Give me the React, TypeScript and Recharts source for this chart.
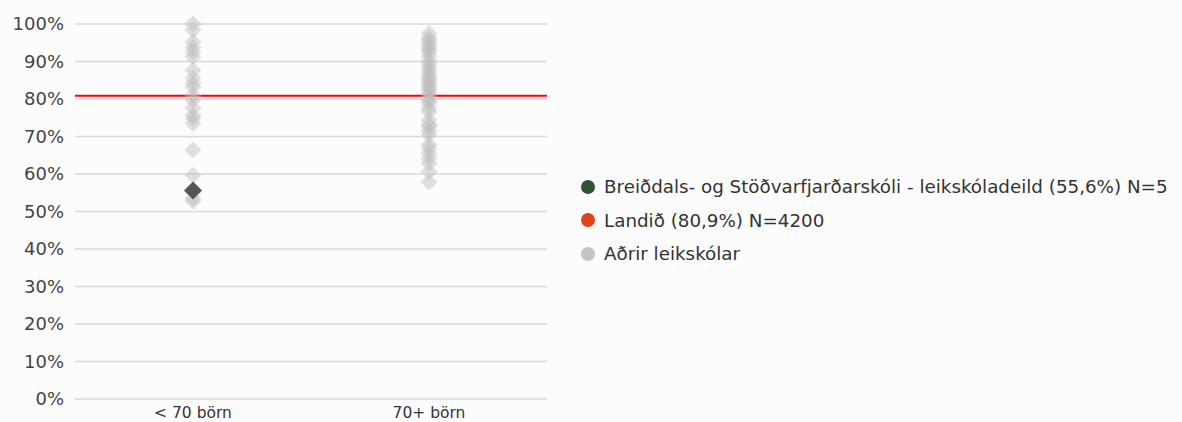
import { CartesianGrid, ReferenceLine, Scatter, ScatterChart, XAxis, YAxis } from "recharts";

const categories = ["< 70 börn", "70+ börn"];

// other preschools, percent, per size group
const smallSchools = [100, 98.4, 95.3, 93.8, 92.6, 91.3, 87.7, 85.6, 84.2, 83.2, 81, 79.7, 77.6, 75.7, 74.9, 73.5, 66.4, 59.7, 53.5, 52.8];
const largeSchools = [
  97.5, 96.2, 95.7, 94.8, 94, 93.2, 92.6, 91.5, 90.2, 89.5, 88.6, 87.7, 86.8, 85.9, 85.2, 84.6, 83.9, 83.3, 82.6, 81.9,
  81.2, 80.2, 79.5, 78.8, 77.5, 76.6, 74.4, 73.2, 72.6, 71.5, 70.4, 67.8, 66.8, 65.5, 64.2, 62.8, 60.6, 57.9
];
const schoolValue = 55.6;
const schoolCategory = 0;
const nationalValue = 80.9;
const yTicks = [0, 10, 20, 30, 40, 50, 60, 70, 80, 90, 100];

const legendItems = [
  { label: "Breiðdals- og Stöðvarfjarðarskóli - leikskóladeild (55,6%) N=5", color: "#2f5233" },
  { label: "Landið (80,9%) N=4200", color: "#e0401a" },
  { label: "Aðrir leikskólar", color: "#c4c4c4" }
];

const others = [
  ...smallSchools.map((v) => ({ x: 0.5, y: v })),
  ...largeSchools.map((v) => ({ x: 1.5, y: v }))
];
const school = [{ x: schoolCategory + 0.5, y: schoolValue }];

function Diamond(props: { cx?: number; cy?: number; fill?: string; fillOpacity?: number; r: number }) {
  const { cx = 0, cy = 0, fill, fillOpacity, r } = props;
  const pts = `${cx},${cy - r} ${cx + r},${cy} ${cx},${cy + r} ${cx - r},${cy}`;
  return <polygon points={pts} fill={fill} fillOpacity={fillOpacity} />;
}

const FONT = "'DejaVu Sans', sans-serif";

export default function App() {
  return (
    <div style={{ position: "relative", width: 1182, height: 422, background: "#fcfcfc", fontFamily: FONT }}>
      <style>{`body{margin:0;background:#fcfcfc}`}</style>
      <ScatterChart width={560} height={422} margin={{ top: 24, right: 13, bottom: 0, left: 0 }}>
        <CartesianGrid vertical={false} stroke="#d9d9d9" strokeWidth={1.5} />
        <XAxis
          type="number"
          dataKey="x"
          domain={[0, 2]}
          ticks={[0.5, 1.5]}
          tickFormatter={(v: number) => categories[Math.floor(v)]}
          axisLine={false}
          tickLine={false}
          tickSize={0}
          tickMargin={8}
          height={23}
          tick={{ fill: "#333", fontSize: 15.5, fontFamily: FONT }}
        />
        <YAxis
          type="number"
          dataKey="y"
          domain={[0, 100]}
          ticks={yTicks}
          tickFormatter={(v: number) => `${v}%`}
          axisLine={false}
          tickLine={false}
          tickSize={0}
          tickMargin={11}
          width={75}
          tick={{ fill: "#444", fontSize: 18, fontFamily: FONT }}
        />
        <ReferenceLine y={nationalValue} stroke="#ff0000" strokeWidth={2} />
        <Scatter
          data={others}
          fill="#bdbdbd"
          isAnimationActive={false}
          shape={(p: any) => <Diamond cx={p.cx} cy={p.cy} r={8.5} fill="#bdbdbd" fillOpacity={0.45} />}
        />
        <Scatter
          data={school}
          fill="#555"
          isAnimationActive={false}
          shape={(p: any) => <Diamond cx={p.cx} cy={p.cy} r={9} fill="#555555" fillOpacity={1} />}
        />
      </ScatterChart>
      <div style={{ position: "absolute", left: 581, top: 170 }}>
        {legendItems.map((it) => (
          <div key={it.label} style={{ display: "flex", alignItems: "center", height: 33.5, whiteSpace: "nowrap" }}>
            <span
              style={{ width: 14, height: 14, borderRadius: 7, background: it.color, display: "inline-block", marginRight: 9 }}
            />
            <span style={{ fontSize: 18.3, color: "#333" }}>{it.label}</span>
          </div>
        ))}
      </div>
    </div>
  );
}
